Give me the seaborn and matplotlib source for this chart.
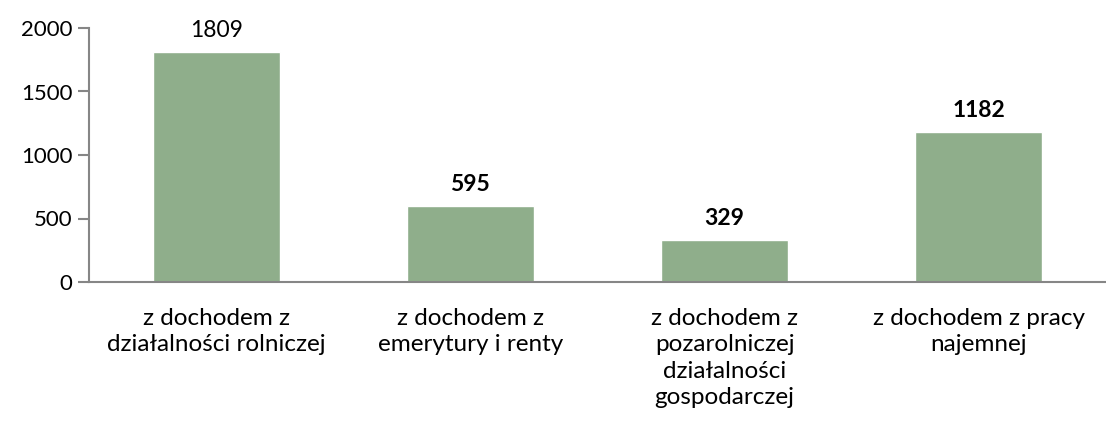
import numpy as np
import matplotlib
matplotlib.use('Agg')
import matplotlib.pyplot as plt
import seaborn as sns

categories = ['z dochodem z\ndziałalności rolniczej',
              'z dochodem z\nemerytury i renty',
              'z dochodem z\npozarolniczej\ndziałalności\ngospodarczej',
              'z dochodem z pracy\nnajemnej']
values = [1809, 595, 329, 1182]
bold_label = [False, True, True, True]

sns.set_style('white')
plt.rcParams['font.family'] = ['Lato', 'DejaVu Sans']
plt.rcParams['text.color'] = 'black'
plt.rcParams['xtick.labelcolor'] = 'black'
plt.rcParams['ytick.labelcolor'] = 'black'

fig = plt.figure(figsize=(11.06, 4.25), dpi=100)
ax = fig.add_axes([89 / 1106, 1 - 282 / 425, 1017 / 1106, 254 / 425])

sns.barplot(x=list(range(len(values))), y=values, color='#8fae8b', width=0.5,
            saturation=1, ax=ax)

grey = '#868686'
ax.set_xlim(-0.5, 3.457)
ax.set_ylim(0, 2000)
ax.set_yticks([0, 500, 1000, 1500, 2000])
ax.set_xticks(range(len(categories)))
ax.set_xticklabels(categories, linespacing=1.3)
ax.set_xticks(np.arange(-0.5, 3.6, 1), minor=True)
ax.tick_params(axis='x', which='major', length=0, pad=19, labelsize=17.5)
ax.tick_params(axis='x', which='minor', length=8, width=1.5, color=grey, direction='out')
ax.tick_params(axis='y', length=8, width=1.5, color=grey, direction='out', labelsize=16, pad=4)
ax.tick_params(axis='both', bottom=True, left=True)

for s in ['top', 'right']:
    ax.spines[s].set_visible(False)
for s in ['left', 'bottom']:
    ax.spines[s].set_color(grey)
    ax.spines[s].set_linewidth(1.5)

for i, (v, b) in enumerate(zip(values, bold_label)):
    ax.annotate(str(v), (i, v), xytext=(0, 8), textcoords='offset points',
                ha='center', va='bottom', fontsize=16.5,
                fontweight='bold' if b else 'normal')

ax.set_xlabel('')
ax.set_ylabel('')
fig.savefig('out.png', dpi=100)
